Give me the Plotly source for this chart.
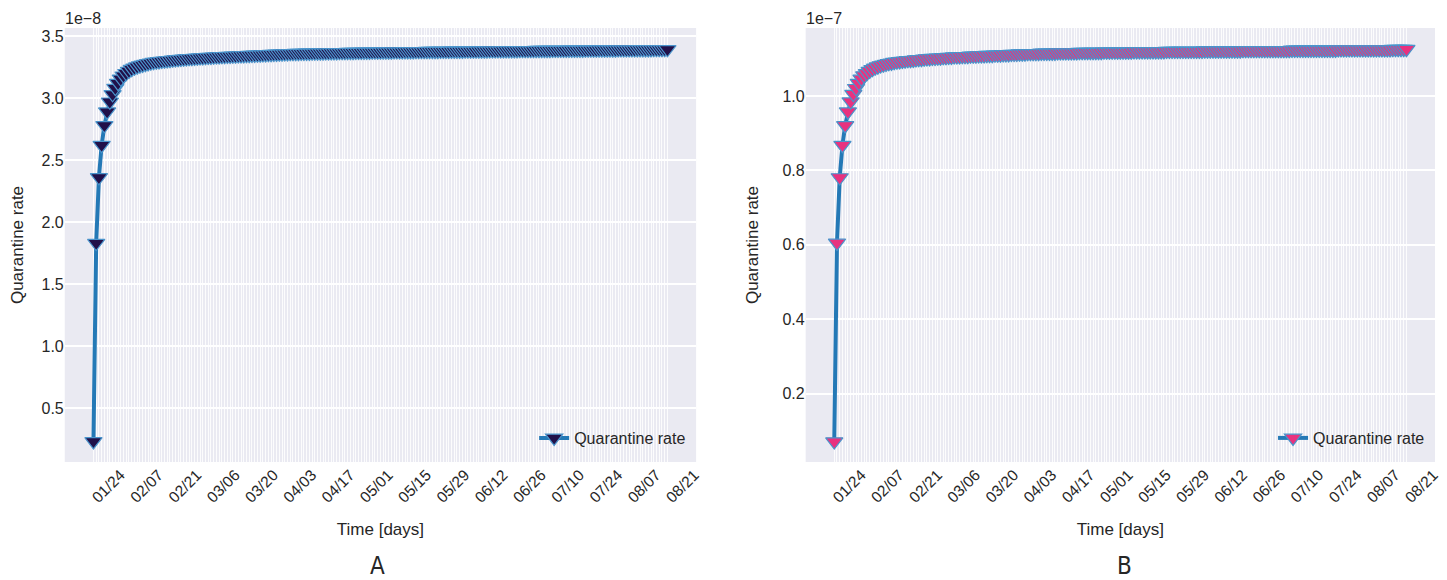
import pandas as pd
import plotly.graph_objects as go

# ---------------- data ----------------
start_date = "2020-01-24"
n_days = 211
dates = pd.date_range(start_date, periods=n_days, freq="D")

tick_labels = ["01/24", "02/07", "02/21", "03/06", "03/20", "04/03", "04/17", "05/01",
               "05/15", "05/29", "06/12", "06/26", "07/10", "07/24", "08/07", "08/21"]
label_every = 14

# Quarantine rate, panel A (units of 1e-8)
rate_a = [
    0.230, 1.830, 2.360, 2.620, 2.780, 2.890, 2.970, 3.030, 3.080, 3.120,
    3.155, 3.180, 3.200, 3.218, 3.233, 3.244, 3.253, 3.261, 3.267, 3.273,
    3.279, 3.284, 3.289, 3.292, 3.295, 3.298, 3.301, 3.303, 3.305, 3.308,
    3.310, 3.312, 3.314, 3.316, 3.318, 3.320, 3.321, 3.323, 3.324, 3.326,
    3.327, 3.329, 3.330, 3.331, 3.333, 3.334, 3.335, 3.336, 3.337, 3.338,
    3.339, 3.340, 3.341, 3.342, 3.343, 3.344, 3.345, 3.346, 3.347, 3.348,
    3.349, 3.350, 3.351, 3.352, 3.353, 3.354, 3.355, 3.356, 3.357, 3.358,
    3.359, 3.360, 3.361, 3.361, 3.362, 3.362, 3.363, 3.363, 3.364, 3.364,
    3.365, 3.365, 3.366, 3.366, 3.366, 3.367, 3.367, 3.368, 3.368, 3.368,
    3.369, 3.369, 3.369, 3.370, 3.370, 3.370, 3.371, 3.371, 3.371, 3.372,
    3.372, 3.372, 3.373, 3.373, 3.373, 3.373, 3.374, 3.374, 3.374, 3.374,
    3.375, 3.375, 3.375, 3.375, 3.376, 3.376, 3.376, 3.376, 3.377, 3.377,
    3.377, 3.377, 3.378, 3.378, 3.378, 3.378, 3.378, 3.379, 3.379, 3.379,
    3.379, 3.380, 3.380, 3.380, 3.380, 3.380, 3.381, 3.381, 3.381, 3.381,
    3.381, 3.382, 3.382, 3.382, 3.382, 3.383, 3.383, 3.383, 3.383, 3.383,
    3.384, 3.384, 3.384, 3.384, 3.384, 3.384, 3.385, 3.385, 3.385, 3.385,
    3.385, 3.385, 3.386, 3.386, 3.386, 3.386, 3.386, 3.386, 3.387, 3.387,
    3.387, 3.387, 3.387, 3.387, 3.388, 3.388, 3.388, 3.388, 3.388, 3.388,
    3.389, 3.389, 3.389, 3.389, 3.389, 3.390, 3.390, 3.390, 3.390, 3.390,
    3.390, 3.390, 3.391, 3.391, 3.391, 3.391, 3.391, 3.391, 3.391, 3.392,
    3.392, 3.392, 3.392, 3.392, 3.392, 3.393, 3.393, 3.393, 3.393, 3.393,
    3.393,
]

# Quarantine rate, panel B (units of 1e-7)
rate_b = [
    0.071, 0.605, 0.781, 0.868, 0.921, 0.958, 0.985, 1.005, 1.021, 1.035,
    1.046, 1.055, 1.061, 1.067, 1.072, 1.076, 1.079, 1.082, 1.084, 1.086,
    1.088, 1.089, 1.091, 1.092, 1.093, 1.094, 1.095, 1.096, 1.096, 1.097,
    1.098, 1.099, 1.099, 1.100, 1.101, 1.101, 1.102, 1.102, 1.103, 1.103,
    1.104, 1.104, 1.105, 1.105, 1.106, 1.106, 1.106, 1.107, 1.107, 1.107,
    1.108, 1.108, 1.108, 1.109, 1.109, 1.109, 1.110, 1.110, 1.110, 1.111,
    1.111, 1.111, 1.112, 1.112, 1.112, 1.113, 1.113, 1.113, 1.114, 1.114,
    1.114, 1.115, 1.115, 1.115, 1.115, 1.115, 1.116, 1.116, 1.116, 1.116,
    1.116, 1.116, 1.117, 1.117, 1.117, 1.117, 1.117, 1.117, 1.117, 1.117,
    1.118, 1.118, 1.118, 1.118, 1.118, 1.118, 1.118, 1.118, 1.118, 1.119,
    1.119, 1.119, 1.119, 1.119, 1.119, 1.119, 1.119, 1.119, 1.119, 1.119,
    1.120, 1.120, 1.120, 1.120, 1.120, 1.120, 1.120, 1.120, 1.120, 1.120,
    1.120, 1.120, 1.121, 1.121, 1.121, 1.121, 1.121, 1.121, 1.121, 1.121,
    1.121, 1.121, 1.121, 1.121, 1.121, 1.121, 1.122, 1.122, 1.122, 1.122,
    1.122, 1.122, 1.122, 1.122, 1.122, 1.122, 1.122, 1.122, 1.122, 1.122,
    1.123, 1.123, 1.123, 1.123, 1.123, 1.123, 1.123, 1.123, 1.123, 1.123,
    1.123, 1.123, 1.123, 1.123, 1.123, 1.123, 1.123, 1.123, 1.124, 1.124,
    1.124, 1.124, 1.124, 1.124, 1.124, 1.124, 1.124, 1.124, 1.124, 1.124,
    1.124, 1.124, 1.124, 1.124, 1.124, 1.125, 1.125, 1.125, 1.125, 1.125,
    1.125, 1.125, 1.125, 1.125, 1.125, 1.125, 1.125, 1.125, 1.125, 1.125,
    1.125, 1.125, 1.125, 1.125, 1.125, 1.126, 1.126, 1.126, 1.126, 1.126,
    1.126,
]

ytick_a = [0.5, 1.0, 1.5, 2.0, 2.5, 3.0, 3.5]
ytick_b = [0.2, 0.4, 0.6, 0.8, 1.0]
series_name = "Quarantine rate"

# ---------------- style ----------------
OFF = 8                      # browser default body margin
W, H = 1447 - OFF, 580 - OFF
BG = "#EAEAF2"
LINE = "#2479B6"
EDGE = "#4A93CB"
FILL_A = "#21114A"
FILL_B = "#E8327F"
FONT = "Liberation Sans, Arial, sans-serif"
TXT = "#262626"

def px_x(p):
    return (p - OFF) / W

def px_y(p):
    return 1 - (p - OFF) / H

dom_y = [px_y(462), px_y(28)]
dom_xa = [px_x(65), px_x(699)]
dom_xb = [px_x(809), px_x(1441)]

ticktext = [tick_labels[i // label_every] if i % label_every == 0 else "" for i in range(n_days)]
pad = pd.Timedelta(hours=252)  # 5% margin of 210 days
xrange_ = [dates[0] - pad, dates[-1] + pad]

fig = go.Figure()
for vals, fill, xa, ya, lg in [
        (rate_a, FILL_A, "x", "y", "legend"),
        (rate_b, FILL_B, "x2", "y2", "legend2")]:
    fig.add_trace(go.Scatter(
        x=dates, y=vals, mode="lines+markers", name=series_name,
        line=dict(color=LINE, width=4),
        marker=dict(symbol="triangle-down", size=15, color=fill,
                    line=dict(color=EDGE, width=1.2)),
        xaxis=xa, yaxis=ya, legend=lg, showlegend=True))

xcommon = dict(
    type="date", range=xrange_, tickmode="array", tickvals=list(dates), ticktext=ticktext,
    tickangle=-45, ticklabelshift=27, showgrid=True, gridcolor="rgba(255,255,255,0.85)",
    gridwidth=1, zeroline=False, showline=False, ticks="",
    tickfont=dict(family=FONT, size=15.5, color=TXT),
    title=dict(text="Time [days]", font=dict(family=FONT, size=17, color=TXT), standoff=18),
)
ycommon = dict(
    showgrid=True, gridcolor="white", gridwidth=1.5, zeroline=False, showline=False, ticks="",
    tickfont=dict(family=FONT, size=16, color=TXT),
    title=dict(text="Quarantine rate", font=dict(family=FONT, size=17, color=TXT), standoff=19),
)

LABEL_FONT = "Liberation Sans Narrow, DejaVu Sans Condensed, Liberation Sans"

fig.update_layout(
    width=W, height=H, margin=dict(l=0, r=0, t=0, b=0),
    paper_bgcolor="white", plot_bgcolor=BG,
    xaxis=dict(domain=dom_xa, anchor="y", **xcommon),
    yaxis=dict(domain=dom_y, anchor="x", range=[0.064, 3.565], tickmode="array",
               tickvals=ytick_a, ticktext=[f"{v:.1f}" for v in ytick_a], **ycommon),
    xaxis2=dict(domain=dom_xb, anchor="y2", **xcommon),
    yaxis2=dict(domain=dom_y, anchor="x2", range=[0.016, 1.183], tickmode="array",
                tickvals=ytick_b, ticktext=[f"{v:.1f}" for v in ytick_b], **ycommon),
    legend=dict(x=px_x(694), y=px_y(455), xanchor="right", yanchor="bottom",
                bgcolor="rgba(0,0,0,0)", font=dict(family=FONT, size=16, color=TXT)),
    legend2=dict(x=px_x(1436), y=px_y(455), xanchor="right", yanchor="bottom",
                 bgcolor="rgba(0,0,0,0)", font=dict(family=FONT, size=16, color=TXT)),
    annotations=[
        dict(text="1e\u22128", x=px_x(63), y=px_y(29), xref="paper", yref="paper",
             xanchor="left", yanchor="bottom", showarrow=False,
             font=dict(family=FONT, size=16, color=TXT)),
        dict(text="1e\u22127", x=px_x(807), y=px_y(29), xref="paper", yref="paper",
             xanchor="left", yanchor="bottom", showarrow=False,
             font=dict(family=FONT, size=16, color=TXT)),
        dict(text="A", x=px_x(379), y=px_y(566), xref="paper", yref="paper",
             xanchor="center", yanchor="middle", showarrow=False,
             font=dict(family=LABEL_FONT, size=24, color=TXT)),
        dict(text="B", x=px_x(1129), y=px_y(566), xref="paper", yref="paper",
             xanchor="center", yanchor="middle", showarrow=False,
             font=dict(family=LABEL_FONT, size=24, color=TXT)),
    ],
)

fig.write_html("out.html")
